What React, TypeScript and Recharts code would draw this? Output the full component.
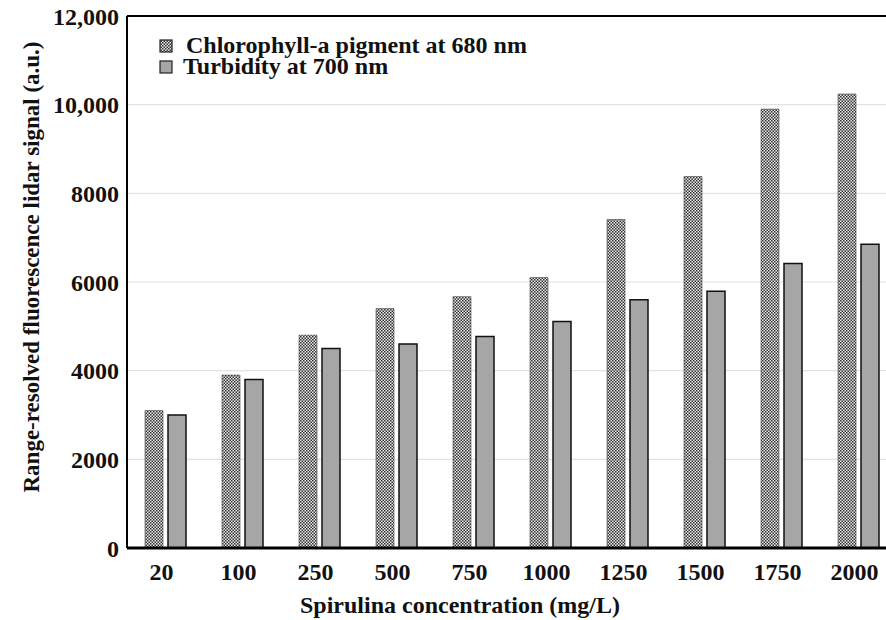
import { BarChart, Bar, XAxis, YAxis, CartesianGrid, ReferenceLine } from 'recharts'

// Spirulina concentration steps (mg/L)
const concentrations = ['20', '100', '250', '500', '750', '1000', '1250', '1500', '1750', '2000']
// Range-resolved fluorescence lidar signal (a.u.)
const chlorophyll680 = [3100, 3900, 4800, 5400, 5670, 6100, 7410, 8380, 9900, 10240]
const turbidity700 = [3000, 3800, 4500, 4600, 4770, 5110, 5600, 5790, 6420, 6850]
const yTicks = [0, 2000, 4000, 6000, 8000, 10000, 12000]

const seriesInfo = [
  { key: 'chl', name: 'Chlorophyll-a pigment at 680 nm', fill: 'url(#checker)', stroke: '#444', strokeWidth: 0.6 },
  { key: 'turb', name: 'Turbidity at 700 nm', fill: '#a6a6a6', stroke: '#111', strokeWidth: 1.5 },
]

const data = concentrations.map((c, i) => ({
  conc: c,
  chl: chlorophyll680[i],
  turb: turbidity700[i],
}))

const FONT = '"Liberation Serif", "Times New Roman", serif'
const INK = '#111'

const fmtY = (v: number) => (v >= 10000 ? v.toLocaleString('en-US') : String(v))

// legend sits inside the plot box, top-left; kept out of Recharts' layout so it doesn't shrink the plot
function LegendBox() {
  return (
    <div
      style={{
        position: 'absolute',
        left: 159,
        top: 35,
        fontFamily: FONT,
        fontWeight: 700,
        fontSize: 24,
        color: INK,
        lineHeight: '21px',
      }}
    >
      {seriesInfo.map((s, i) => (
        <div key={s.key} style={{ display: 'flex', alignItems: 'center', height: 21 }}>
          <svg width={14} height={14} style={{ marginRight: i === 0 ? 13 : 10 }}>
            <rect x={1} y={1} width={12} height={12} fill={s.fill} stroke="#222" strokeWidth={1.2} />
          </svg>
          <span>{s.name}</span>
        </div>
      ))}
    </div>
  )
}

export default function App() {
  return (
    <div style={{ position: 'fixed', left: 0, top: 0, width: 886, height: 620, overflow: 'hidden', background: '#fff' }}>
      <BarChart
        width={905}
        height={620}
        data={data}
        margin={{ top: 16, right: 8, left: 0, bottom: 0 }}
        barSize={18}
        barGap={5}
      >
        <defs>
          <pattern id="checker" width={3} height={3} patternUnits="userSpaceOnUse">
            <rect width={3} height={3} fill="#e8e8e8" />
            <rect width={1.5} height={1.5} fill="#333" />
            <rect x={1.5} y={1.5} width={1.5} height={1.5} fill="#333" />
          </pattern>
        </defs>
        <CartesianGrid vertical={false} stroke="#e2e2e2" strokeWidth={1.2} />
        <XAxis
          dataKey="conc"
          height={72}
          tickLine={false}
          tickMargin={9}
          axisLine={{ stroke: '#000', strokeWidth: 3 }}
          tick={{ fill: INK, fontSize: 24, fontWeight: 700, fontFamily: FONT, dx: -4 }}
          interval={0}
          label={(props: any) => {
            const vb = props.viewBox
            return (
              <text
                x={460}
                y={vb.y + 65}
                textAnchor="middle"
                fill={INK}
                style={{ fontFamily: FONT, fontSize: 24, fontWeight: 700 }}
              >
                Spirulina concentration (mg/L)
              </text>
            )
          }}
        />
        <YAxis
          width={127}
          domain={[0, 12000]}
          ticks={yTicks}
          interval={0}
          tickLine={false}
          tickMargin={2}
          tickFormatter={fmtY}
          axisLine={{ stroke: '#000', strokeWidth: 2 }}
          tick={{ fill: INK, fontSize: 24, fontWeight: 700, fontFamily: FONT }}
          label={(props: any) => {
            const vb = props.viewBox
            const cy = vb.y + vb.height / 2 - 15
            return (
              <text
                x={31}
                y={cy}
                transform={`rotate(-90, 31, ${cy})`}
                textAnchor="middle"
                dominantBaseline="central"
                fill={INK}
                style={{ fontFamily: FONT, fontSize: 23, fontWeight: 700 }}
              >
                Range-resolved fluorescence lidar signal (a.u.)
              </text>
            )
          }}
        />
        <ReferenceLine y={12000} stroke="#000" strokeWidth={2} />
        {seriesInfo.map((s) => (
          <Bar
            key={s.key}
            dataKey={s.key}
            name={s.name}
            fill={s.fill}
            stroke={s.stroke}
            strokeWidth={s.strokeWidth}
            isAnimationActive={false}
          />
        ))}
      </BarChart>
      <LegendBox />
    </div>
  )
}
